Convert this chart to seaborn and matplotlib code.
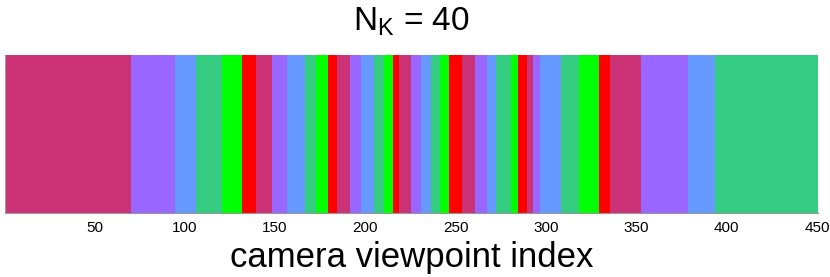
import numpy as np
import pandas as pd
import matplotlib
matplotlib.use("Agg")
import matplotlib.pyplot as plt
import seaborn as sns

# last viewpoint index of each of the 40 consecutive segments
segment_ends = [70, 94, 106, 120, 131, 139, 148, 156, 166, 172, 179, 184, 191, 197,
                204, 210, 215, 218, 225, 230, 236, 241, 246, 253, 260, 267, 272, 280,
                284, 289, 292, 296, 308, 318, 329, 335, 352, 378, 393, 450]
color_names = ["crimson", "purple", "blue", "teal", "green", "red"]
palette = {"crimson": "#CC3377", "purple": "#9966FF", "blue": "#6699FF",
           "teal": "#33CC80", "green": "#00FF00", "red": "#FF0000"}
tick_values = [50, 100, 150, 200, 250, 300, 350, 400, 450]
title_text = r"$\mathregular{N_K}$ = 40"
xlabel_text = "camera viewpoint index"

# expand segments into one row per viewpoint
idx, lab = [], []
start = 1
for k, end in enumerate(segment_ends):
    for i in range(start, end + 1):
        idx.append(i)
        lab.append(color_names[k % len(color_names)])
    start = end + 1
df = pd.DataFrame({"view": idx, "h": np.ones(len(idx)), "cluster": lab})

sns.set_style("white")
plt.rcParams["font.family"] = ["Liberation Sans", "DejaVu Sans"]
plt.rcParams["mathtext.fontset"] = "custom"
plt.rcParams["mathtext.rm"] = "Liberation Sans"
plt.rcParams["text.color"] = "black"
plt.rcParams["axes.labelcolor"] = "black"
plt.rcParams["xtick.color"] = "black"

fig = plt.figure(figsize=(8.3, 2.77), dpi=100)
ax = fig.add_axes([0.006, 0.231, 0.9795, 0.570])
sns.barplot(data=df, x="view", y="h", hue="cluster", palette=palette,
            native_scale=True, width=1.0, dodge=False, legend=False,
            saturation=1, linewidth=0, edgecolor="none", ax=ax)
ax.set_xlim(0.5, 450.5)
ax.set_ylim(0, 1)
ax.set_yticks([])
ax.set_ylabel("")
ax.set_xticks(tick_values)
ax.set_xticklabels([str(t) for t in tick_values], fontsize=11, color="black")
ax.tick_params(axis="x", length=0, pad=6)
ax.set_xlabel(xlabel_text, fontsize=25, labelpad=4, color="black")
ax.set_title(title_text, fontsize=24, pad=18, color="black")
for s in ["top", "right"]:
    ax.spines[s].set_visible(False)
for s in ["bottom", "left"]:
    ax.spines[s].set_color("#999999")
    ax.spines[s].set_linewidth(0.8)

fig.savefig("out.png", dpi=100)
